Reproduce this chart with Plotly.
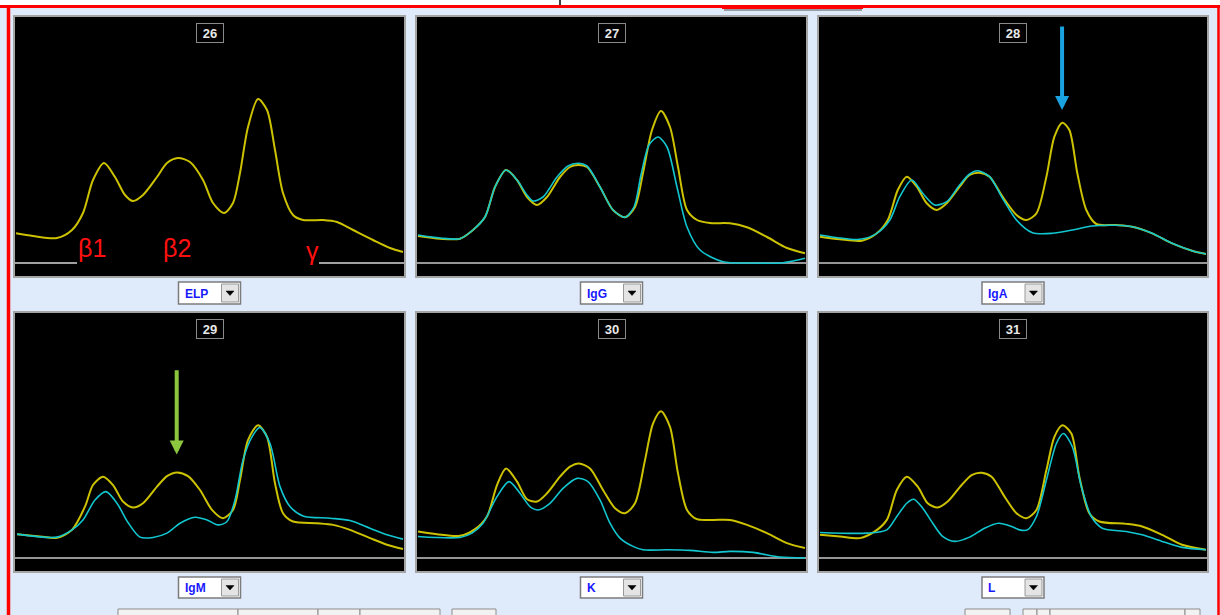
import plotly.graph_objects as go

W, H = 1220, 615

# ---------------- data ----------------
panel_ids = ["26", "27", "28", "29", "30", "31"]
panel_menus = ["ELP", "IgG", "IgA", "IgM", "K", "L"]
zone_labels = ["β1", "β2", "γ"]
zone_label_x = [77, 162, 297]
zone_label_y = [15, 15, 12]
elp_baseline_x = [0, 62, None, 304, 389]
elp_baseline_y = [0, 0, None, 0, 0]

p26_yel_x = [1, 18, 42, 57, 68, 78, 89, 100, 110, 118, 128, 142, 152, 163, 175, 188, 198, 209, 218, 225,
             233, 243, 252, 260, 268, 278, 288, 308, 322, 338, 358, 375, 388]
p26_yel_y = [29.7, 27, 25, 33, 50, 83, 100, 86, 68, 62, 68, 86, 100, 105, 101, 83, 60, 50, 60, 90,
             136, 164, 153, 113, 70, 48, 43, 43, 41, 33, 23, 15, 11]

p27_yel_x = [1, 23, 43, 56, 68, 78, 89, 100, 110, 120, 130, 143, 153, 161, 170, 183, 196, 208, 218, 226,
             235, 244, 253, 261, 270, 280, 293, 313, 330, 350, 370, 388]
p27_yel_y = [27, 24.3, 24.3, 33, 46, 76, 93, 83, 66, 58, 66, 86, 96, 98, 96, 76, 53, 45.7, 56, 90,
             133, 152, 136, 96, 53, 43, 40, 39.7, 35.7, 26, 15, 9.7]
p27_cyan_x = [1, 23, 43, 56, 68, 78, 89, 100, 110, 116, 126, 140, 151, 161, 170, 183, 196, 208, 217, 224,
              232, 241, 250, 260, 270, 283, 306, 333, 366, 388]
p27_cyan_y = [28, 25, 24.3, 33, 46, 76, 93, 83, 68, 62, 66, 86, 97, 99.7, 97, 76, 53, 45.7, 56, 88,
              118, 126, 116, 76, 36, 13, 1.3, 0, 0.3, 4.7]

p28_yel_x = [1, 21, 43, 58, 69, 79, 88, 98, 108, 118, 128, 141, 151, 161, 171, 184, 198, 208, 218, 228,
             236, 244, 251, 259, 268, 278, 298, 314, 334, 354, 374, 388]
p28_yel_y = [26.3, 23.7, 22.3, 29.7, 43, 73, 86.3, 76.3, 59.7, 53, 59.7, 76.3, 88, 90.3, 86.3, 66.3, 48, 43, 49.7, 86.3,
             126.3, 140.3, 133, 89.7, 53, 39, 38, 36.3, 29.7, 19.7, 12.3, 9]
p28_cyan_x = [1, 41, 58, 71, 81, 93, 104, 116, 128, 141, 151, 159, 171, 184, 198, 214, 234, 254, 274, 298,
              314, 334, 354, 374, 388]
p28_cyan_y = [28, 23.7, 29.7, 43, 66.3, 83, 69.7, 58, 61.3, 78, 89, 92.3, 86.3, 64.7, 43, 30.3, 29.7, 33, 37, 37.7,
              36.3, 29.7, 19.7, 12.3, 9]

p29_yel_x = [2, 25, 42, 57, 70, 78, 88, 98, 108, 118, 128, 142, 152, 162, 173, 185, 197, 208, 218, 225,
             233, 243, 252, 260, 268, 278, 302, 318, 335, 355, 372, 388]
p29_yel_y = [24, 21.7, 20.3, 28.3, 51.7, 73.3, 81.7, 73.3, 56.7, 50.7, 55, 71.7, 82.3, 86, 82.3, 68.3, 48.3, 40, 48.3, 78.3,
             118.3, 133.3, 121.7, 75, 45, 36.7, 35, 33.3, 28.3, 20, 13.3, 9]
p29_cyan_x = [2, 42, 57, 68, 80, 91, 102, 113, 125, 138, 152, 165, 180, 192, 203, 212, 220, 228, 237, 245,
              255, 265, 275, 288, 315, 335, 355, 372, 388]
p29_cyan_y = [24, 21, 28.3, 38.3, 58.3, 66.7, 55, 35.7, 21, 20.7, 25, 35, 41, 38.3, 33.3, 36.7, 58.3, 98.3, 121.7, 131,
              115, 71.7, 51.7, 42.3, 40, 37.7, 30, 23.3, 19]

p30_yel_x = [1, 20, 43, 58, 70, 80, 89, 100, 110, 120, 130, 143, 153, 162, 173, 186, 198, 208, 218, 228,
             236, 244, 253, 261, 270, 280, 296, 313, 330, 350, 370, 388]
p30_yel_y = [26.7, 24, 22.3, 29, 41.7, 73.3, 90, 76.7, 59, 56.7, 65, 81.7, 91.7, 95, 90, 68.3, 50, 45, 55, 98.3,
             135, 147.3, 131.7, 85, 48.3, 39, 38.3, 38.3, 33.3, 25, 15, 10]
p30_cyan_x = [1, 43, 55, 66, 80, 92, 103, 113, 121, 133, 146, 160, 171, 183, 193, 203, 216, 226, 250, 273,
              296, 313, 336, 363, 388]
p30_cyan_y = [21.7, 20.7, 25, 35, 61.7, 76.7, 65, 51.7, 48.3, 55, 70, 80, 76.7, 58.3, 35, 20, 11.7, 8.3, 8.3, 7.7,
              5.7, 6.7, 5.7, 1, 0]

p31_yel_x = [1, 21, 41, 56, 68, 78, 88, 99, 109, 119, 129, 143, 153, 163, 173, 186, 198, 208, 218, 228,
             236, 244, 253, 261, 271, 281, 308, 324, 344, 364, 388]
p31_yel_y = [23.3, 21.7, 20, 26.7, 38.3, 68.3, 81.7, 71.7, 55, 50.7, 56.7, 73.3, 83.3, 85.7, 81.7, 61.7, 45, 40, 48.3, 88.3,
             121.7, 133.3, 125, 81.7, 45, 36.7, 34.3, 31.7, 23.3, 13.3, 8.3]
p31_cyan_x = [1, 48, 68, 78, 88, 95, 104, 114, 124, 136, 151, 166, 180, 193, 201, 209, 218, 228, 238, 245,
              254, 263, 273, 284, 308, 324, 344, 364, 388]
p31_cyan_y = [25.7, 25, 28.3, 41.7, 55, 59, 50, 35, 21.7, 16.7, 21, 30, 35, 31.7, 28.3, 28.3, 41.7, 78.3, 115, 125,
              111.7, 71.7, 41.7, 30, 26.7, 23.3, 16.7, 10.7, 8.3]

# arrows: (panel index, x, tail height, head height)
arrow_blue = (2, 243.7, 238, 153)
arrow_green = (3, 161.7, 190, 104)

yellow_series = [(p26_yel_x, p26_yel_y), (p27_yel_x, p27_yel_y), (p28_yel_x, p28_yel_y),
                 (p29_yel_x, p29_yel_y), (p30_yel_x, p30_yel_y), (p31_yel_x, p31_yel_y)]
cyan_series = [None, (p27_cyan_x, p27_cyan_y), (p28_cyan_x, p28_cyan_y),
               (p29_cyan_x, p29_cyan_y), (p30_cyan_x, p30_cyan_y), (p31_cyan_x, p31_cyan_y)]

# ---------------- layout geometry (pixels) ----------------
cols = [(15, 404), (417, 806), (819, 1207)]
rows = [(17, 276), (313, 571)]
menu_rows = [(282, 304), (577, 598)]
X_RANGE = [0, 389]
Y_RANGE = [-13, 246]

YEL = "#ccc200"
CYAN = "#12c6d0"
BG = "#dfeafb"


def px(x):
    return x / W


def py(y):
    return 1 - y / H


fig = go.Figure()
shapes = []
annotations = []

for i in range(6):
    r, c = divmod(i, 3)
    x0, x1 = cols[c]
    y0, y1 = rows[r]
    n = "" if i == 0 else str(i + 1)
    xa, ya = "x" + n, "y" + n
    fig.layout["xaxis" + n] = dict(domain=[px(x0), px(x1)], range=X_RANGE, anchor=ya,
                                   showgrid=False, zeroline=False, showticklabels=False, ticks="",
                                   showline=True, mirror=True, linecolor="#a4a4a4", linewidth=2, fixedrange=True)
    fig.layout["yaxis" + n] = dict(domain=[py(y1), py(y0)], range=Y_RANGE, anchor=xa,
                                   showgrid=False, zeroline=False, showticklabels=False, ticks="",
                                   showline=True, mirror=True, linecolor="#a4a4a4", linewidth=2, fixedrange=True)
    # baseline
    if i == 0:
        fig.add_trace(go.Scatter(x=elp_baseline_x, y=elp_baseline_y, mode="lines", xaxis=xa, yaxis=ya,
                                 line=dict(color="#a0a0a0", width=2), hoverinfo="skip", connectgaps=False))
    else:
        fig.add_trace(go.Scatter(x=X_RANGE, y=[0, 0], mode="lines", xaxis=xa, yaxis=ya,
                                 line=dict(color="#c8c8c8", width=1.5), hoverinfo="skip"))
    yx, yy = yellow_series[i]
    fig.add_trace(go.Scatter(x=yx, y=yy, mode="lines", xaxis=xa, yaxis=ya,
                             line=dict(color=YEL, width=2, shape="spline", smoothing=0.8)))
    if cyan_series[i] is not None:
        cx, cy = cyan_series[i]
        fig.add_trace(go.Scatter(x=cx, y=cy, mode="lines", xaxis=xa, yaxis=ya,
                                 line=dict(color=CYAN, width=1.6, shape="spline", smoothing=0.8)))

    cxm = (x0 + x1) / 2
    # panel number box
    annotations.append(dict(x=px(cxm), y=py(y0 + 16), xref="paper", yref="paper", text="<b>%s</b>" % panel_ids[i],
                            showarrow=False, font=dict(color="#e8e8e8", size=13, family="Arial"),
                            bgcolor="black", bordercolor="#8a8a8a", borderwidth=1, borderpad=1,
                            width=24, height=16, xanchor="center", yanchor="middle"))
    # dropdown
    my0, my1 = menu_rows[r]
    bx0, bx1 = cxm - 31, cxm + 31
    shapes.append(dict(type="rect", xref="paper", yref="paper", x0=px(bx0), x1=px(bx1), y0=py(my1), y1=py(my0),
                       fillcolor="white", line=dict(color="#7c7c7c", width=1.5)))
    shapes.append(dict(type="rect", xref="paper", yref="paper", x0=px(bx1 - 19), x1=px(bx1 - 2),
                       y0=py(my1 - 2), y1=py(my0 + 2), fillcolor="#e4e4e4", line=dict(color="#9a9a9a", width=1)))
    tcx, tcy = bx1 - 10.5, (my0 + my1) / 2
    shapes.append(dict(type="path", xref="paper", yref="paper",
                       path="M %f %f L %f %f L %f %f Z" % (px(tcx - 4), py(tcy - 2), px(tcx + 4), py(tcy - 2),
                                                          px(tcx), py(tcy + 2.5)),
                       fillcolor="black", line=dict(color="black", width=0.5)))
    annotations.append(dict(x=px(bx0 + 4), y=py(tcy + 0.5), xref="paper", yref="paper",
                            text="<b>%s</b>" % panel_menus[i], showarrow=False,
                            font=dict(color="#1818ff", size=12, family="Arial"),
                            xanchor="left", yanchor="middle"))

# zone labels on ELP panel
for lab, lx, ly in zip(zone_labels, zone_label_x, zone_label_y):
    annotations.append(dict(x=lx, y=ly, xref="x", yref="y", text=lab, showarrow=False,
                            font=dict(color="#ff1010", size=25, family="Arial"),
                            xanchor="center", yanchor="middle"))

# arrows
for (pi, ax_x, tail, head), col in [(arrow_blue, "#1aa3e0"), (arrow_green, "#8cc63f")]:
    n = "" if pi == 0 else str(pi + 1)
    annotations.append(dict(x=ax_x, y=head, ax=ax_x, ay=tail, xref="x" + n, yref="y" + n,
                            axref="x" + n, ayref="y" + n, text="", showarrow=True,
                            arrowhead=2, arrowsize=0.7, arrowwidth=4, arrowcolor=col, standoff=0))

# window chrome
shapes.append(dict(type="rect", xref="paper", yref="paper", x0=0, x1=1, y0=py(5), y1=1,
                   fillcolor="white", line=dict(width=0)))
shapes.append(dict(type="line", xref="paper", yref="paper", x0=px(560), x1=px(560), y0=py(0), y1=py(5),
                   line=dict(color="black", width=1.5)))
shapes.append(dict(type="line", xref="paper", yref="paper", x0=px(0), x1=px(1220), y0=py(6.5), y1=py(6.5),
                   line=dict(color="#ff0000", width=3)))
shapes.append(dict(type="rect", xref="paper", yref="paper", x0=px(722), x1=px(863), y0=py(9), y1=py(5),
                   fillcolor="#ff0000", line=dict(width=0)))
shapes.append(dict(type="line", xref="paper", yref="paper", x0=px(724), x1=px(862), y0=py(10), y1=py(10),
                   line=dict(color="#505050", width=1)))
shapes.append(dict(type="line", xref="paper", yref="paper", x0=px(8.5), x1=px(8.5), y0=0, y1=py(5),
                   line=dict(color="#ff0000", width=3.5)))
shapes.append(dict(type="line", xref="paper", yref="paper", x0=px(1218.5), x1=px(1218.5), y0=0, y1=py(5),
                   line=dict(color="#ff0000", width=2.5)))
# partially visible buttons along the bottom edge
for bx0, bx1 in [(118, 238), (238, 318), (318, 360), (360, 440), (452, 496), (965, 1010),
                 (1023, 1037), (1037, 1050), (1050, 1185), (1185, 1200)]:
    shapes.append(dict(type="rect", xref="paper", yref="paper", x0=px(bx0), x1=px(bx1), y0=py(620), y1=py(609),
                       fillcolor="#f2f2f2", line=dict(color="#8c8c8c", width=1)))

fig.update_layout(width=W, height=H, margin=dict(l=0, r=0, t=0, b=0),
                  paper_bgcolor=BG, plot_bgcolor="black", showlegend=False,
                  shapes=shapes, annotations=annotations)

fig.write_html("out.html", config={"displayModeBar": False},
               post_script="document.body.style.margin='0';document.body.style.overflow='hidden';")
